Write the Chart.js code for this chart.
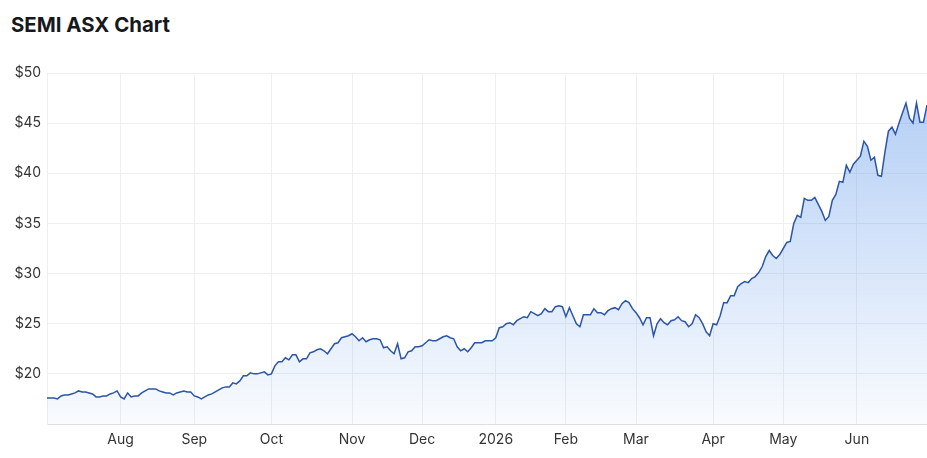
<!DOCTYPE html>
<html>
<head>
<meta charset="utf-8">
<script src="https://cdn.jsdelivr.net/npm/chart.js@4.4.0/dist/chart.umd.min.js"></script>
<style>
  html, body { margin: 0; padding: 0; background: #fff; }
  #wrap { position: relative; width: 927px; height: 458px; }
  #title { position: absolute; left: 11px; top: 13px; font: 700 20.4px/24px Inter, sans-serif; color: #16181d; }
  canvas { position: absolute; left: 0; top: 0; }
</style>
</head>
<body>
<div id="wrap">
  <div id="title">SEMI ASX Chart</div>
  <canvas id="chart" width="927" height="458"></canvas>
</div>
<script>
// daily closes, Jul 2025 - Jun 2026 (one value per trading day)
const prices = [
  17.6, 17.6, 17.6, 17.5, 17.8, 17.9, 17.9, 18.0, 18.1, 18.3,
  18.2, 18.2, 18.1, 18.0, 17.7, 17.7, 17.8, 17.8, 18.0, 18.1,
  18.3, 17.7, 17.5, 18.1, 17.7, 17.8, 17.8, 18.1, 18.3, 18.5,
  18.5, 18.5, 18.3, 18.2, 18.1, 18.1, 17.9, 18.1, 18.2, 18.3,
  18.2, 18.2, 17.8, 17.7, 17.5, 17.7, 17.9, 18.0, 18.2, 18.4,
  18.6, 18.7, 18.7, 19.1, 19.0, 19.3, 19.8, 19.8, 20.1, 20.0,
  20.0, 20.1, 20.2, 19.9, 20.0, 20.8, 21.2, 21.2, 21.6, 21.4,
  21.9, 21.9, 21.2, 21.5, 21.5, 22.1, 22.2, 22.4, 22.5, 22.3,
  22.0, 22.5, 23.0, 23.1, 23.6, 23.7, 23.8, 24.0, 23.7, 23.3,
  23.6, 23.2, 23.4, 23.5, 23.5, 23.4, 22.6, 22.7, 22.3, 22.0,
  23.0, 21.5, 21.6, 22.2, 22.3, 22.7, 22.7, 22.8, 23.1, 23.4,
  23.3, 23.3, 23.5, 23.7, 23.8, 23.6, 23.5, 22.7, 22.3, 22.5,
  22.2, 22.6, 23.1, 23.1, 23.1, 23.3, 23.3, 23.3, 23.6, 24.6,
  24.7, 25.0, 25.1, 24.9, 25.3, 25.5, 25.7, 25.6, 26.2, 26.0,
  25.8, 26.0, 26.5, 26.2, 26.2, 26.7, 26.8, 26.7, 25.7, 26.6,
  25.8, 25.0, 24.7, 25.9, 25.9, 25.9, 26.5, 26.1, 26.1, 25.9,
  26.3, 26.5, 26.6, 26.4, 27.0, 27.3, 27.1, 26.5, 26.1, 25.6,
  24.9, 25.6, 25.6, 23.8, 25.0, 25.5, 25.1, 24.9, 25.3, 25.4,
  25.7, 25.3, 25.2, 24.7, 25.0, 25.9, 25.6, 25.0, 24.2, 23.8,
  25.0, 24.9, 25.8, 27.1, 27.1, 27.8, 27.8, 28.7, 29.0, 29.2,
  29.1, 29.5, 29.7, 30.1, 30.7, 31.7, 32.3, 31.8, 31.5, 31.9,
  32.5, 33.1, 33.2, 35.0, 35.8, 35.6, 37.5, 37.3, 37.3, 37.6,
  36.9, 36.2, 35.3, 35.7, 37.3, 37.9, 39.2, 39.1, 40.8, 40.1,
  40.9, 41.3, 41.7, 43.2, 42.7, 41.3, 41.6, 39.8, 39.7, 42.1,
  44.2, 44.6, 43.9, 45.0, 46.0, 47.0, 45.5, 45.0, 47.0, 45.1,
  45.1, 46.8
];

// first trading day of each labelled month (index into prices)
const monthStarts = [21, 42, 64, 87, 107, 128, 148, 168, 190, 210, 231];
const monthNames = ['Aug', 'Sep', 'Oct', 'Nov', 'Dec', '2026', 'Feb', 'Mar', 'Apr', 'May', 'Jun'];

const yTicks = [20, 25, 30, 35, 40, 45, 50];

const days = prices.map((_, i) => i);
const gridColor = '#efefef';
const labelFont = { family: 'Inter', size: 14 };

const ctx = document.getElementById('chart');
new Chart(ctx, {
  type: 'line',
  data: {
    labels: days,
    datasets: [{
      data: prices,
      borderColor: '#2b55a5',
      borderWidth: 1.5,
      pointRadius: 0,
      tension: 0,
      fill: 'start',
      backgroundColor: (c) => {
        const { ctx, chartArea } = c.chart;
        if (!chartArea) return null;
        const g = ctx.createLinearGradient(0, chartArea.top, 0, chartArea.bottom);
        g.addColorStop(0, 'rgba(66,133,230,0.42)');
        g.addColorStop(1, 'rgba(66,133,230,0.03)');
        return g;
      }
    }]
  },
  options: {
    responsive: false,
    animation: false,
    layout: { padding: { top: 73, left: 0, right: 0, bottom: 0 } },
    plugins: {
      legend: { display: false },
      tooltip: { enabled: false }
    },
    scales: {
      x: {
        type: 'category',
        grid: { color: gridColor, drawTicks: false },
        border: { display: true, color: '#dedede' },
        ticks: {
          autoSkip: false,
          maxRotation: 0,
          padding: 7,
          color: '#333',
          font: labelFont,
          callback: (val, i) => {
            const k = monthStarts.indexOf(i);
            return k >= 0 ? monthNames[k] : null;
          }
        },
        afterFit: (axis) => { axis.height = 34; }
      },
      y: {
        min: 15,
        max: 50,
        afterBuildTicks: (axis) => { axis.ticks = yTicks.map(v => ({ value: v })); },
        grid: { color: gridColor, drawTicks: false },
        border: { display: true, color: gridColor },
        ticks: {
          padding: 6,
          color: '#333',
          font: labelFont,
          callback: (v) => '$' + v
        },
        afterFit: (axis) => { axis.width = 47; }
      }
    }
  }
});
</script>
</body>
</html>
